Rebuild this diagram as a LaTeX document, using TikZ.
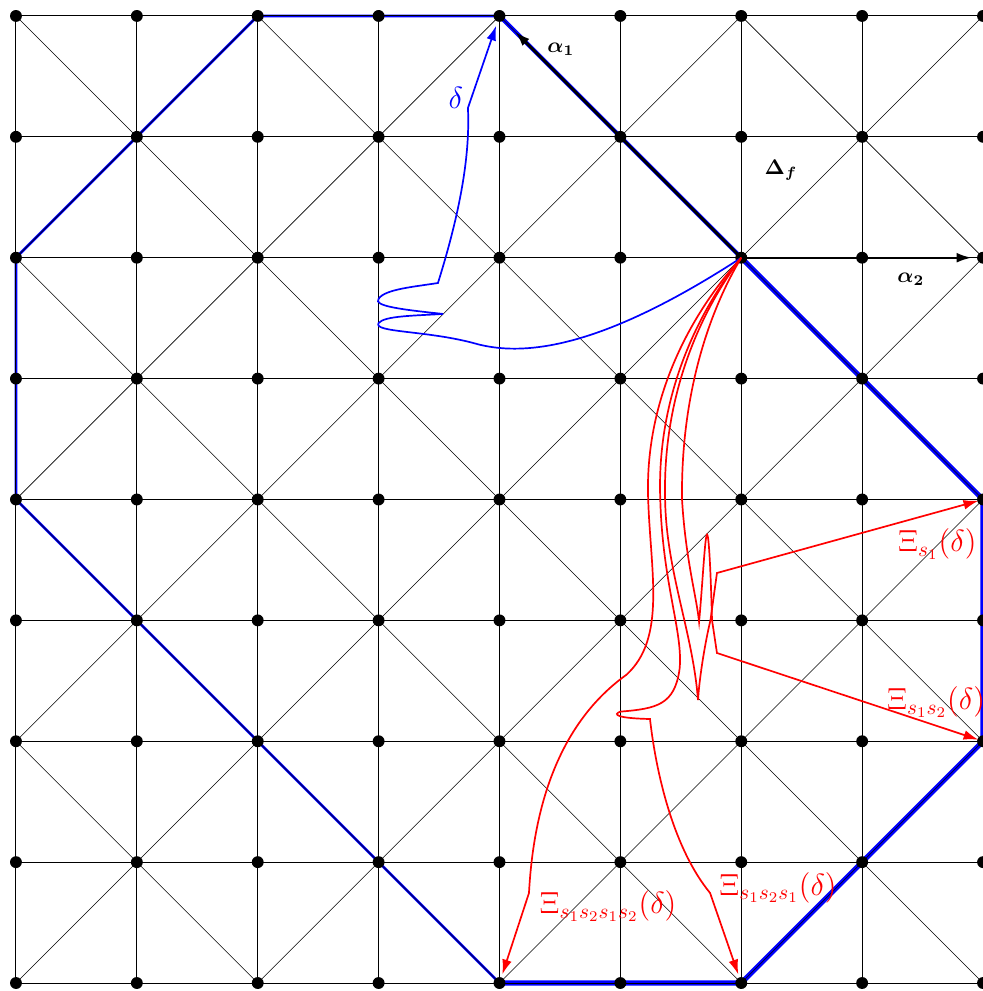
\documentclass[tikz,border=0pt]{standalone}
\usepackage{bm}
\usetikzlibrary{arrows.meta}

\begin{document}
\begin{tikzpicture}[
  x=2cm, y=2cm,
  >={Latex[length=7pt,width=4.6pt]},
  gridline/.style={line width=0.45pt},
  diag/.style={line width=0.3pt},
  wall/.style={draw=blue, line width=1.3pt},
  thickwall/.style={draw=blue, line width=2.4pt},
  root/.style={->, black, line width=1pt},
  deltaline/.style={->, blue, thick},
  xiline/.style={->, red, thick},
  lbl/.style={font=\Large}
]
\useasboundingbox (-0.132,-0.066) rectangle (7.992,8.132);

% lattice points
\foreach \i in {0,...,8}
  \foreach \j in {0,...,8}
    \coordinate (p-\i-\j) at (\i,\j);

% octagon
\draw[wall] (p-4-0) -- (p-0-4) -- (p-0-6) -- (p-2-8) -- (p-4-8);
\draw[wall, line width=2pt] (p-4-8) -- (p-6-6);
\draw[thickwall] (p-6-6) -- (p-8-4) -- (p-8-2) -- (p-6-0) -- (p-4-0);

% grid and diagonals
\foreach \k in {0,...,8} {
  \draw[gridline] (p-0-\k) -- (p-8-\k);
  \draw[gridline] (p-\k-0) -- (p-\k-8);
}
\foreach \k in {2,4,6} {
  \pgfmathtruncatemacro\m{8-\k}
  \draw[diag] (p-0-\m) -- (p-\k-8);
  \draw[diag] (p-\m-0) -- (p-8-\k);
  \draw[diag] (p-0-\k) -- (p-\k-0);
  \draw[diag] (p-\m-8) -- (p-8-\m);
}
\draw[diag] (p-0-0) -- (p-8-8);
\draw[diag] (p-0-8) -- (p-8-0);

\foreach \i in {0,...,8}
  \foreach \j in {0,...,8}
    \fill (p-\i-\j) circle (2.8pt);

% roots
\draw[root, line width=1.3pt, shorten >=3.7mm] (p-6-6) -- (p-4-8);
\draw[root, shorten >=1.9mm] (p-6-6) -- (p-8-6);
\node (a1) at (4.508,7.725) {$\bm{\alpha_1}$};
\node (a2) at (7.403,5.823) {$\bm{\alpha_2}$};
\node (df) at (6.328,6.725) {$\bm{\Delta_f}$};

% the path delta
\draw[deltaline, shorten >=1.7mm] (p-6-6)
  .. controls (5.0,5.35) and (4.3,5.15) .. (3.8,5.29)
  .. controls (3.4,5.40) and (2.95,5.38) .. (3.0,5.46)
  .. controls (3.05,5.52) and (3.3,5.52) .. (3.533,5.535)
  .. controls (3.2,5.57) and (2.95,5.6) .. (3.0,5.66)
  .. controls (3.05,5.74) and (3.3,5.76) .. (3.491,5.791)
  .. controls (3.65,6.3) and (3.76,6.8) .. (3.739,7.239)
  -- (p-4-8);
\node[lbl, blue] (dl) at (3.639,7.320) {$\delta$};

% images of delta
\draw[xiline, shorten >=1.5mm] (p-6-6)
  .. controls (5.55,5.5) and (5.2,4.8) .. (5.23,4.0)
  .. controls (5.25,3.4) and (5.38,2.85) .. (5.05,2.55)
  .. controls (4.7,2.3) and (4.3,1.8) .. (4.244,0.745)
  -- (p-4-0);
\draw[xiline, shorten >=1.5mm] (p-6-6)
  .. controls (5.6,5.5) and (5.3,4.8) .. (5.33,4.0)
  .. controls (5.35,3.3) and (5.52,2.9) .. (5.49,2.6)
  .. controls (5.45,2.3) and (5.3,2.27) .. (5.0,2.245)
  .. controls (4.93,2.22) and (4.98,2.19) .. (5.245,2.184)
  .. controls (5.3,1.7) and (5.45,1.1) .. (5.742,0.745)
  -- (p-6-0);
\draw[xiline, shorten >=0.8mm] (p-6-6)
  .. controls (5.62,5.5) and (5.35,4.8) .. (5.37,4.0)
  .. controls (5.38,3.4) and (5.6,2.9) .. (5.642,2.341)
  .. controls (5.66,2.6) and (5.72,2.9) .. (5.745,3.0)
  -- (5.799,3.392) -- (p-8-4);
\draw[xiline, shorten >=0.8mm] (p-6-6)
  .. controls (5.7,5.5) and (5.5,4.8) .. (5.51,4.0)
  .. controls (5.54,3.5) and (5.63,3.2) .. (5.651,2.987)
  .. controls (5.68,3.3) and (5.70,3.71) .. (5.717,3.71)
  .. controls (5.735,3.71) and (5.75,3.3) .. (5.758,3.003)
  -- (5.799,2.730) -- (p-8-2);

\node[lbl, red] (x1212) at (4.898,0.637) {$\Xi_{s_1s_2s_1s_2}(\delta)$};
\node[lbl, red] (x121) at (6.304,0.790) {$\Xi_{s_1s_2s_1}(\delta)$};
\node[lbl, red, anchor=west, inner sep=0pt] (x1) at (7.295,3.632) {$\Xi_{s_1}(\delta)$};
\node[lbl, red, anchor=west, inner sep=0pt] (x12) at (7.204,2.325) {$\Xi_{s_1s_2}(\delta)$};
\end{tikzpicture}
\end{document}
